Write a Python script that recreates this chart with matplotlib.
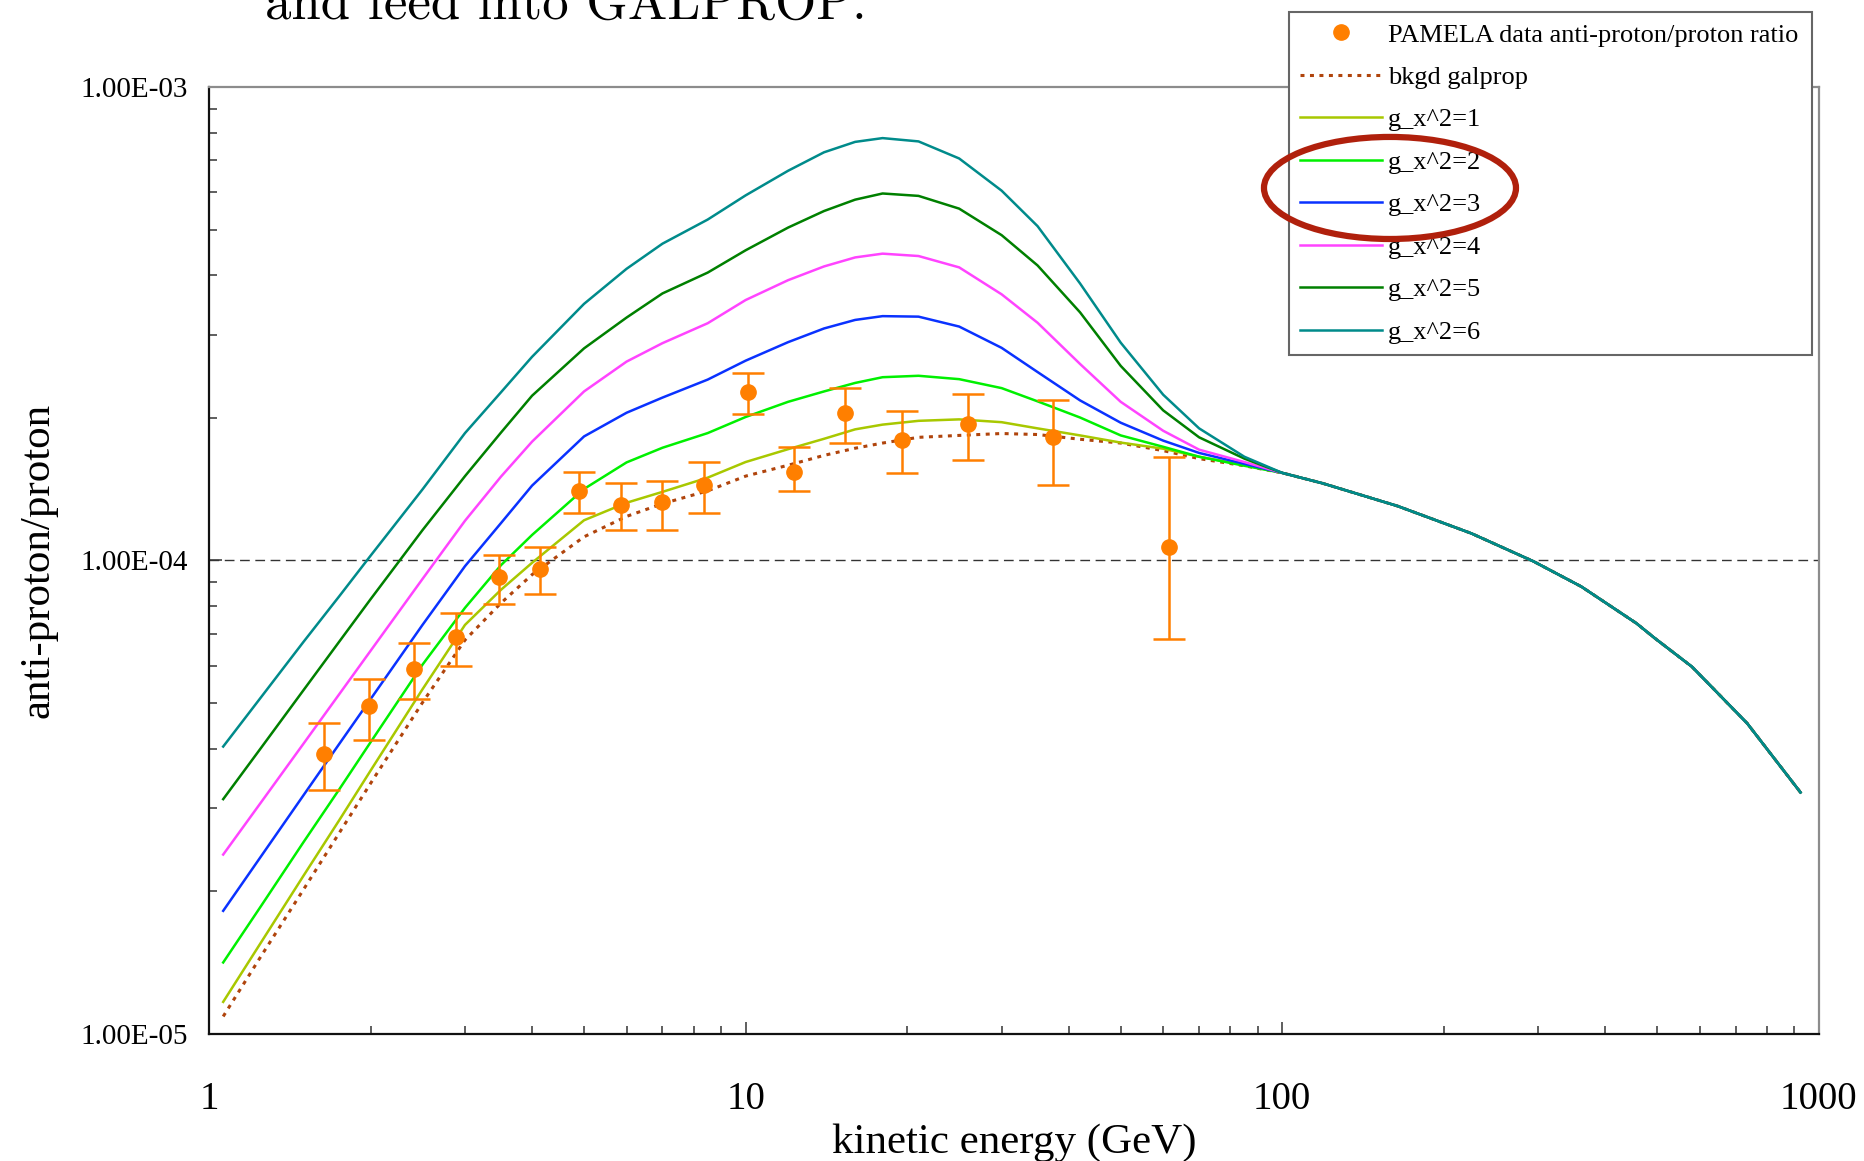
"""PAMELA anti-proton/proton ratio vs. GALPROP background and g_x^2 models."""

import matplotlib
matplotlib.use("Agg")
import matplotlib.pyplot as plt
import numpy as np
from matplotlib.lines import Line2D
from matplotlib.patches import Ellipse
from matplotlib.ticker import FixedLocator, FixedFormatter, LogLocator, NullFormatter

plt.rcParams["font.family"] = ["Liberation Serif", "DejaVu Serif"]

# model curves (GeV, ratio)
energy_model = [1.063, 1.25, 1.5, 1.75, 2, 2.5, 3, 3.5, 4, 5, 6, 7, 8.5, 10, 12, 14, 16, 18, 21,
                25, 30, 35, 42, 50, 60, 70, 85, 100]
bkgd = [1.089e-5, 1.459e-5, 2.018e-5, 2.661e-5, 3.381e-5, 5.012e-5, 6.792e-5, 8.128e-5, 9.333e-5,
        1.122e-4, 1.239e-4, 1.318e-4, 1.403e-4, 1.507e-4, 1.589e-4, 1.667e-4, 1.726e-4, 1.770e-4,
        1.820e-4, 1.837e-4, 1.854e-4, 1.845e-4, 1.803e-4, 1.770e-4, 1.706e-4, 1.641e-4, 1.585e-4,
        1.531e-4]
g1 = [1.169e-5, 1.560e-5, 2.158e-5, 2.831e-5, 3.597e-5, 5.346e-5, 7.311e-5, 8.670e-5, 9.886e-5,
      1.216e-4, 1.324e-4, 1.396e-4, 1.496e-4, 1.614e-4, 1.718e-4, 1.807e-4, 1.892e-4, 1.936e-4,
      1.972e-4, 1.986e-4, 1.959e-4, 1.901e-4, 1.837e-4, 1.774e-4, 1.722e-4, 1.656e-4, 1.592e-4,
      1.531e-4]
g2 = [1.416e-5, 1.862e-5, 2.541e-5, 3.289e-5, 4.130e-5, 6.026e-5, 7.943e-5, 9.772e-5, 1.132e-4,
      1.416e-4, 1.611e-4, 1.730e-4, 1.858e-4, 2.009e-4, 2.163e-4, 2.275e-4, 2.371e-4, 2.438e-4,
      2.455e-4, 2.415e-4, 2.312e-4, 2.168e-4, 2.004e-4, 1.837e-4, 1.738e-4, 1.656e-4, 1.585e-4,
      1.531e-4]
g3 = [1.820e-5, 2.371e-5, 3.192e-5, 4.102e-5, 5.093e-5, 7.311e-5, 9.727e-5, 1.199e-4, 1.439e-4,
      1.828e-4, 2.051e-4, 2.208e-4, 2.410e-4, 2.642e-4, 2.891e-4, 3.090e-4, 3.221e-4, 3.281e-4,
      3.273e-4, 3.119e-4, 2.812e-4, 2.500e-4, 2.178e-4, 1.954e-4, 1.791e-4, 1.687e-4, 1.600e-4,
      1.531e-4]
g4 = [2.393e-5, 3.083e-5, 4.102e-5, 5.224e-5, 6.442e-5, 9.141e-5, 1.213e-4, 1.503e-4, 1.782e-4,
      2.275e-4, 2.630e-4, 2.877e-4, 3.170e-4, 3.548e-4, 3.908e-4, 4.178e-4, 4.365e-4, 4.446e-4,
      4.395e-4, 4.159e-4, 3.648e-4, 3.177e-4, 2.600e-4, 2.163e-4, 1.879e-4, 1.714e-4, 1.614e-4,
      1.531e-4]
g5 = [3.133e-5, 4.018e-5, 5.321e-5, 6.745e-5, 8.279e-5, 1.159e-4, 1.507e-4, 1.862e-4, 2.228e-4,
      2.805e-4, 3.258e-4, 3.664e-4, 4.055e-4, 4.519e-4, 5.047e-4, 5.470e-4, 5.781e-4, 5.957e-4,
      5.888e-4, 5.534e-4, 4.864e-4, 4.198e-4, 3.342e-4, 2.576e-4, 2.075e-4, 1.820e-4, 1.641e-4,
      1.531e-4]
g6 = [4.046e-5, 5.140e-5, 6.730e-5, 8.410e-5, 1.023e-4, 1.413e-4, 1.858e-4, 2.265e-4, 2.692e-4,
      3.483e-4, 4.130e-4, 4.667e-4, 5.248e-4, 5.902e-4, 6.653e-4, 7.278e-4, 7.656e-4, 7.798e-4,
      7.674e-4, 7.063e-4, 6.039e-4, 5.082e-4, 3.846e-4, 2.884e-4, 2.239e-4, 1.901e-4, 1.656e-4,
      1.531e-4]

# above ~100 GeV all curves coincide
energy_tail = [119, 164, 225, 294, 361, 457, 495, 580, 735, 924]
ratio_tail = [1.455e-4, 1.303e-4, 1.141e-4, 9.954e-5, 8.804e-5, 7.368e-5, 6.847e-5, 5.965e-5,
              4.531e-5, 3.238e-5]

# PAMELA points with error bar ends
pamela_energy = [1.637, 1.986, 2.413, 2.882, 3.464, 4.13, 4.903, 5.848, 6.998, 8.36, 10.12,
                 12.32, 15.34, 19.54, 25.98, 37.41, 61.45]
pamela_ratio = [3.909e-5, 4.917e-5, 5.897e-5, 6.885e-5, 9.218e-5, 9.61e-5, 1.403e-4, 1.31e-4,
                1.326e-4, 1.441e-4, 2.272e-4, 1.54e-4, 2.05e-4, 1.799e-4, 1.942e-4, 1.822e-4, 1.069e-4]
pamela_hi = [4.537e-5, 5.622e-5, 6.68e-5, 7.756e-5, 1.029e-4, 1.07e-4, 1.539e-4, 1.458e-4,
             1.471e-4, 1.618e-4, 2.491e-4, 1.736e-4, 2.316e-4, 2.064e-4, 2.244e-4, 2.186e-4, 1.65e-4]
pamela_lo = [3.269e-5, 4.186e-5, 5.11e-5, 5.986e-5, 8.11e-5, 8.48e-5, 1.26e-4, 1.159e-4,
             1.159e-4, 1.26e-4, 2.041e-4, 1.404e-4, 1.774e-4, 1.528e-4, 1.627e-4, 1.446e-4, 6.83e-5]

model_labels = ["g_x^2=1", "g_x^2=2", "g_x^2=3", "g_x^2=4", "g_x^2=5", "g_x^2=6"]
model_colors = ["#a8c800", "#00f000", "#0a32ff", "#ff44ff", "#008000", "#008b8b"]
orange = "#ff7f00"
bkgd_color = "#b0440c"

fig = plt.figure(figsize=(18.64, 11.61), dpi=100)
ax = fig.add_axes([0.1121, 0.1094, 0.8637, 0.8157])
ax.set_xscale("log")
ax.set_yscale("log")
ax.set_xlim(1, 1000)
ax.set_ylim(1e-5, 1e-3)

ax.axhline(1e-4, color="#333333", lw=1.0, dashes=(7, 4), zorder=1)

x_all = np.concatenate([energy_model, energy_tail])
ax.plot(x_all, np.concatenate([bkgd, ratio_tail]), color=bkgd_color, lw=2.2,
        dashes=(1.3, 1.8), zorder=2)
for vals, col in zip([g1, g2, g3, g4, g5, g6], model_colors):
    ax.plot(x_all, np.concatenate([vals, ratio_tail]), color=col, lw=1.8, zorder=3,
            solid_joinstyle="round")

y = np.array(pamela_ratio)
yerr = [y - np.array(pamela_lo), np.array(pamela_hi) - y]
ax.errorbar(pamela_energy, y, yerr=yerr, fmt="o", color=orange, ms=11, elinewidth=1.8,
            capsize=11.5, capthick=1.8, zorder=5)

# ticks
ax.yaxis.set_major_locator(FixedLocator([1e-5, 1e-4, 1e-3]))
ax.yaxis.set_major_formatter(FixedFormatter(["1.00E-05", "1.00E-04", "1.00E-03"]))
ax.yaxis.set_minor_locator(LogLocator(base=10, subs=np.arange(2, 10)))
ax.yaxis.set_minor_formatter(NullFormatter())
ax.xaxis.set_major_locator(FixedLocator([1, 10, 100, 1000]))
ax.xaxis.set_major_formatter(FixedFormatter(["1", "10", "100", "1000"]))
ax.xaxis.set_minor_locator(LogLocator(base=10, subs=np.arange(2, 10)))
ax.xaxis.set_minor_formatter(NullFormatter())
ax.tick_params(which="both", direction="in", top=False, right=False, width=1.1, color="#333333")
ax.tick_params(which="major", length=9)
ax.tick_params(which="minor", length=6)
ax.tick_params(axis="y", which="major", labelsize=21, pad=15)
ax.tick_params(axis="x", which="major", labelsize=28, pad=34)

for side in ("left", "bottom"):
    ax.spines[side].set_color("#111111")
    ax.spines[side].set_linewidth(1.6)
for side in ("top", "right"):
    ax.spines[side].set_color("#8c8c8c")
    ax.spines[side].set_linewidth(1.6)

ax.set_xlabel("kinetic energy (GeV)", fontsize=31)
ax.xaxis.set_label_coords(0.5, -0.095)
ax.set_ylabel("anti-proton/proton", fontsize=31, va="center")
ax.yaxis.set_label_coords(-0.1062, 0.5)

# legend
handles = [Line2D([], [], ls="none", marker="o", ms=11, color=orange),
           Line2D([], [], color=bkgd_color, lw=2.2, dashes=(1.3, 1.8))]
handles += [Line2D([], [], color=c, lw=1.8) for c in model_colors]
labels = ["PAMELA data anti-proton/proton ratio", "bkgd galprop"] + model_labels
leg = ax.legend(handles, labels, loc="upper left", bbox_to_anchor=(0.6915, 0.6934, 0.2806, 0.2963),
                bbox_transform=fig.transFigure, mode="expand", fontsize=19, frameon=True,
                fancybox=False, framealpha=1, edgecolor="#666666", borderpad=0.42,
                labelspacing=0.72, handlelength=3.1, handletextpad=0.23, borderaxespad=0)
leg.get_frame().set_linewidth(1.5)
leg.set_zorder(10)

# hand-drawn highlight around g_x^2=2 and 3
fig.add_artist(Ellipse((0.7457, 0.8381), 0.1352, 0.0879, transform=fig.transFigure,
                       fill=False, edgecolor="#b0200c", lw=4.5, zorder=20))

# slide text cut off at the top
fig.text(265 / 1864, 1 - 18.5 / 1161, "and feed into GALPROP.", fontfamily="cmr10",
         fontsize=38, va="baseline", ha="left")

fig.savefig("out.png", dpi=100)
